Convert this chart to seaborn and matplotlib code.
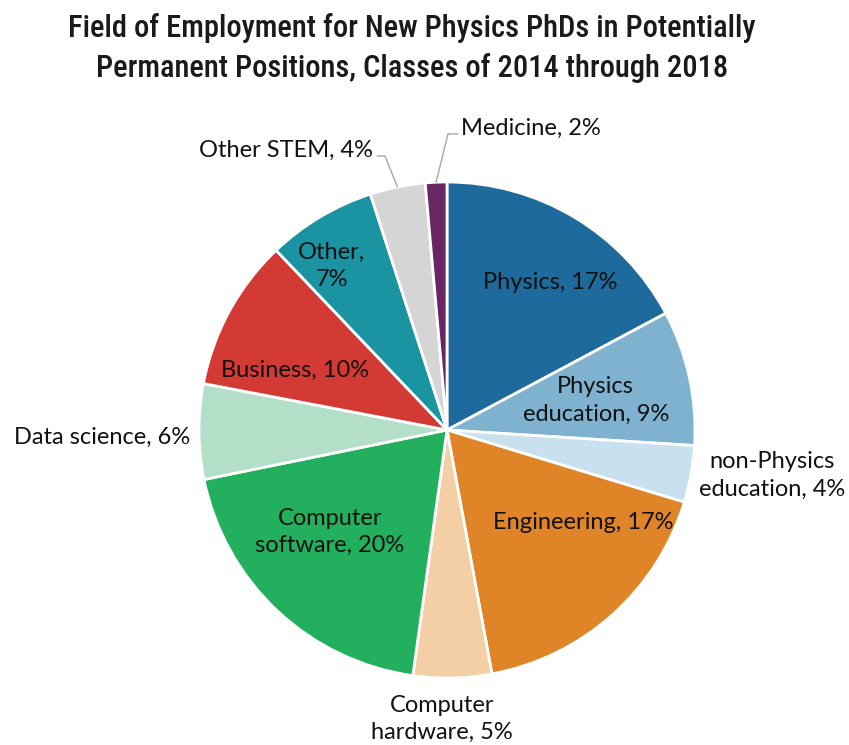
import matplotlib
matplotlib.use("Agg")
import matplotlib.pyplot as plt
import seaborn as sns
import numpy as np

# Share of new physics PhDs by field (percent)
fields = ["Physics", "Physics education", "non-Physics education", "Engineering",
          "Computer hardware", "Computer software", "Data science", "Business",
          "Other", "Other STEM", "Medicine"]
shares = [17.2, 8.8, 3.7, 17.4, 5.1, 19.6, 6.2, 9.9, 7.1, 3.6, 1.4]
labels = ["Physics, 17%", "Physics\neducation, 9%", "non-Physics\neducation, 4%",
          "Engineering, 17%", "Computer\nhardware, 5%", "Computer\nsoftware, 20%",
          "Data science, 6%", "Business, 10%", "Other,\n7%", "Other STEM, 4%",
          "Medicine, 2%"]
colors = ["#1f6a9c", "#7fb2cf", "#c9e0ee", "#e08428", "#f4cfa5", "#22b05e",
          "#b3dfc9", "#d33a33", "#1a93a3", "#d5d5d5", "#6a2565"]

# label positions (in pie-radius units, pie centre = 0,0)
label_pos = [(0.415, 0.593), (0.6, 0.121), (1.31, -0.185), (0.548, -0.371),
             (-0.02, -1.165), (-0.472, -0.411), (-1.39, -0.028), (-0.613, 0.242),
             (-0.464, 0.661), (-0.649, 1.129), (0.339, 1.218)]
# leader lines for the two small slices: text end -> elbow -> slice edge
leader_elbow = {9: (-0.25, 1.105), 10: (0.004, 1.194)}
leader_text_end = {9: (-0.282, 1.105), 10: (0.044, 1.194)}

sns.set_theme(style="white")
plt.rcParams["font.family"] = ["Lato", "DejaVu Sans"]

fig = plt.figure(figsize=(8.49, 7.45), dpi=100)
ax = fig.add_axes([0, 0, 1, 1])

wedges, _ = ax.pie(shares, colors=colors, startangle=90, counterclock=False,
                   radius=1.0, wedgeprops=dict(edgecolor="white", linewidth=2))

for i, w in enumerate(wedges):
    x, y = label_pos[i]
    ax.text(x, y, labels[i], ha="center", va="center", fontsize=17,
            color="#111111", linespacing=1.4)
    if i in leader_elbow:
        mid = np.deg2rad((w.theta1 + w.theta2) / 2)
        ex, ey = leader_elbow[i]
        tx, ty = leader_text_end[i]
        ax.plot([tx, ex, np.cos(mid)], [ty, ey, np.sin(mid)], color="#a6a6a6", lw=1)

ax.set_xlim(-447 / 248, (849 - 447) / 248)
ax.set_ylim(-(745 - 430) / 248, 430 / 248)
ax.set_aspect("auto")
ax.axis("off")

fig.text(0.485, 0.983, "Field of Employment for New Physics PhDs in Potentially\n"
         "Permanent Positions, Classes of 2014 through 2018",
         ha="center", va="top", fontsize=22, color="#1a1a1a", linespacing=1.45,
         fontweight="medium", fontstretch="condensed",
         family=["Roboto Condensed", "Open Sans Condensed", "Noto Sans Condensed",
                 "DejaVu Sans Condensed", "Liberation Sans Narrow", "DejaVu Sans"])

fig.savefig("out.png", dpi=100)
